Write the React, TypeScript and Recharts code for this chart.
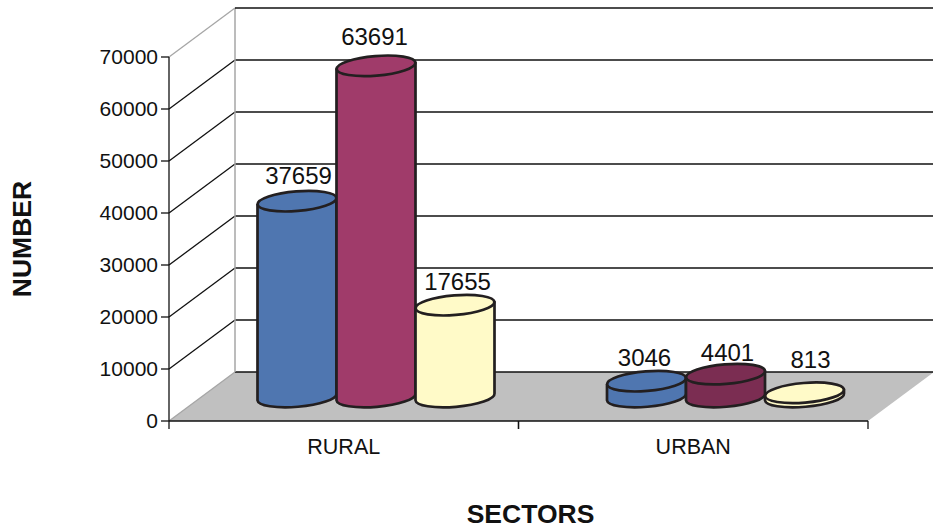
import React from 'react';
import { BarChart, Bar, XAxis, YAxis, CartesianGrid, Cell, LabelList, Label } from 'recharts';

const categories = ['RURAL', 'URBAN'];
const seriesBlue = [37659, 3046];
const seriesMaroon = [63691, 4401];
const seriesYellow = [17655, 813];
const yTicks = [0, 10000, 20000, 30000, 40000, 50000, 60000, 70000];

const chartData = categories.map((name, i) => ({
  name,
  blue: seriesBlue[i],
  maroon: seriesMaroon[i],
  yellow: seriesYellow[i],
}));

// layout of the fake 3d box
const W = 933;
const H = 529;
const LEFT = 169;
const TOP = 57;
const PLOT_W = 699;
const PLOT_H = 364;
const DEPTH_X = 66;
const DEPTH_Y = 49;
const BAR_DX = 32.5;
const BAR_DY = 24;
const INK = '#231f20';
const FONT = '"Liberation Sans", Arial, sans-serif';

// hand placement of the value labels: [shift right, lift above the cylinder top]
const labelPlacement: { [value: number]: [number, number] } = {
  37659: [1.5, 26],
  63691: [-1.5, 29],
  17655: [2.5, 24],
  3046: [-2, 24],
  4401: [2, 22],
  813: [6, 33],
};

const GridLine = (props: any) => {
  const { x1, y1, x2, index } = props;
  const bx = x1 + DEPTH_X;
  const by = y1 - DEPTH_Y;
  const isFloor = index === 0;
  const isTop = index === yTicks.length - 1;
  return (
    <g>
      {isFloor && (
        <polygon points={`${x1},${y1} ${bx},${by} ${x2 + DEPTH_X},${by} ${x2},${y1}`} fill="#c0c0c0" />
      )}
      {isTop && <line x1={bx} y1={by} x2={bx} y2={by + PLOT_H} stroke="#a6a6a6" strokeWidth={1.5} />}
      <line x1={x1} y1={y1} x2={bx} y2={by} stroke={isFloor || isTop ? '#a6a6a6' : '#111'} strokeWidth={1.3} />
      <line x1={bx} y1={by} x2={x2 + DEPTH_X} y2={by} stroke="#111" strokeWidth={1.3} />
    </g>
  );
};

const Cylinder = (props: any) => {
  const { x, y, width, height, fill } = props;
  const rx = width / 2;
  const ry = 9.8;
  const tilt = 3.3;
  const rot = -4.7;
  const left = x + BAR_DX;
  const right = left + width;
  const top = y - BAR_DY;
  const bottom = y + height - BAR_DY;
  const body =
    `M${left},${top + tilt} L${left},${bottom + tilt} ` +
    `A${rx},${ry} ${rot} 0 0 ${right},${bottom - tilt} L${right},${top - tilt} Z`;
  return (
    <g>
      <path d={body} fill={fill} stroke={INK} strokeWidth={2.7} strokeLinejoin="round" />
      <ellipse
        cx={left + rx}
        cy={top}
        rx={rx}
        ry={ry}
        fill={fill}
        stroke={INK}
        strokeWidth={2.7}
        transform={`rotate(${rot} ${left + rx} ${top})`}
      />
    </g>
  );
};

const ValueLabel = (props: any) => {
  const { x, y, width, value } = props;
  const [shift, lift] = labelPlacement[value] || [0, 25];
  return (
    <text
      x={x + width / 2 + BAR_DX + shift}
      y={y - BAR_DY - lift}
      textAnchor="middle"
      dominantBaseline="central"
      fontFamily={FONT}
      fontSize={24}
      fill="#111"
    >
      {value}
    </text>
  );
};

const CategoryTick = (props: any) => {
  const { x, payload } = props;
  const y0 = TOP + PLOT_H;
  const half = PLOT_W / categories.length / 2;
  return (
    <g>
      <line x1={x - half} y1={y0} x2={x - half} y2={y0 + 8} stroke="#111" strokeWidth={1.3} />
      <line x1={x + half} y1={y0} x2={x + half} y2={y0 + 8} stroke="#111" strokeWidth={1.3} />
      <text x={x} y={y0 + 26} textAnchor="middle" dominantBaseline="central" fontFamily={FONT} fontSize={21.5} fill="#111">
        {payload.value}
      </text>
    </g>
  );
};

export default function App() {
  return (
    <div style={{ position: 'absolute', left: 0, top: 0, width: W, height: H, background: '#fff', overflow: 'hidden' }}>
      <BarChart
        width={W}
        height={H}
        data={chartData}
        margin={{ top: TOP, right: W - LEFT - PLOT_W, bottom: 0, left: 0 }}
        barSize={79}
        barGap={0}
        style={{ fontFamily: FONT }}
      >
        <CartesianGrid horizontal={GridLine} vertical={false} syncWithTicks />
        <XAxis
          dataKey="name"
          height={H - TOP - PLOT_H}
          axisLine={{ stroke: '#111', strokeWidth: 1.3 }}
          tickLine={false}
          tick={CategoryTick}
        >
          <Label
            value="SECTORS"
            position="insideBottom"
            offset={6}
            dx={12}
            style={{ fontFamily: FONT, fontSize: 26.5, fontWeight: 700, fill: '#111' }}
          />
        </XAxis>
        <YAxis
          width={LEFT}
          domain={[0, 70000]}
          ticks={yTicks}
          interval={0}
          axisLine={{ stroke: '#111', strokeWidth: 1.3 }}
          tickLine={{ stroke: '#111', strokeWidth: 1.3 }}
          tickSize={8}
          tickMargin={3}
          tick={{ fontFamily: FONT, fontSize: 21, fill: '#111' }}
        >
          <Label
            value="NUMBER"
            angle={-90}
            position="insideLeft"
            offset={22}
            style={{ fontFamily: FONT, fontSize: 26.5, fontWeight: 700, fill: '#111', textAnchor: 'middle' }}
          />
        </YAxis>
        <Bar dataKey="blue" fill="#4f76b0" shape={Cylinder} isAnimationActive={false}>
          <LabelList dataKey="blue" content={ValueLabel} />
        </Bar>
        <Bar dataKey="maroon" fill="#a03b6a" shape={Cylinder} isAnimationActive={false}>
          <Cell fill="#a03b6a" />
          <Cell fill="#7b2d52" />
          <LabelList dataKey="maroon" content={ValueLabel} />
        </Bar>
        <Bar dataKey="yellow" fill="#fffac8" shape={Cylinder} isAnimationActive={false}>
          <LabelList dataKey="yellow" content={ValueLabel} />
        </Bar>
      </BarChart>
    </div>
  );
}
